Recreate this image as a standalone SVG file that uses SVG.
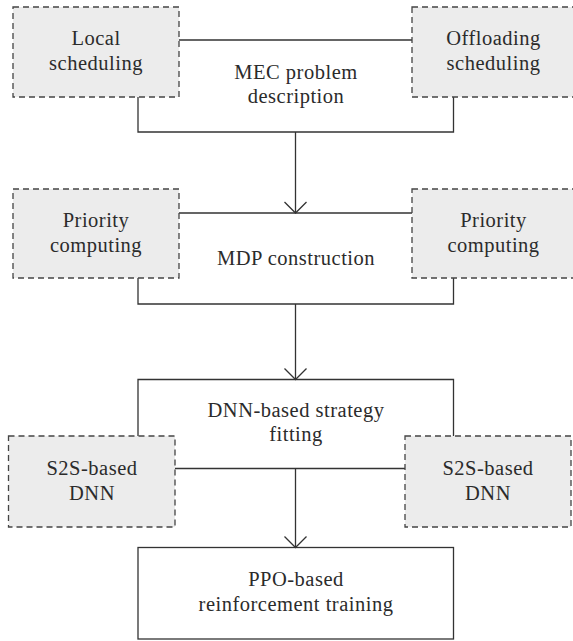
<svg xmlns="http://www.w3.org/2000/svg" width="573" height="641" viewBox="0 0 573 641">
  <style>
    .sub { fill: #ececec; stroke: #444; stroke-width: 1.3; stroke-dasharray: 6 4; }
    .frame { fill: none; stroke: #333; stroke-width: 1.3; }
    .box { fill: #fff; stroke: #333; stroke-width: 1.3; }
    .wire { fill: none; stroke: #333; stroke-width: 1.3; }
    .lbl { font-size: 20.5px; fill: #2b2b2b; text-anchor: middle; letter-spacing: 0.5px; }
  </style>
  <defs>
    <marker id="vee" markerUnits="userSpaceOnUse" markerWidth="24" markerHeight="24" refX="12" refY="12" orient="auto" viewBox="0 0 24 24">
      <path d="M1,1 L12,12 L1,23" fill="none" stroke="#333" stroke-width="1.3"/>
    </marker>
  </defs>
  <rect width="573" height="641" fill="#fff"/>

  <g font-family="'Liberation Serif', 'DejaVu Serif', serif">
  <!-- stage 1: MEC problem description -->
  <g id="mec-problem">
    <path class="frame" d="M179,40 H412 M138,97 V132 H453.5 V97"/>
    <text class="lbl" x="296" y="79">MEC problem</text>
    <text class="lbl" x="296" y="102.5">description</text>
  </g>
  <g id="local-scheduling">
    <rect class="sub" x="13" y="7" width="166" height="90"/>
    <text class="lbl" x="96" y="45">Local</text>
    <text class="lbl" x="96" y="70">scheduling</text>
  </g>
  <g id="offloading-scheduling">
    <rect class="sub" x="412" y="7" width="163" height="90"/>
    <text class="lbl" x="493.5" y="45">Offloading</text>
    <text class="lbl" x="493.5" y="70">scheduling</text>
  </g>

  <!-- stage 2: MDP construction -->
  <g id="mdp-construction">
    <path class="frame" d="M179,213 H412 M138,278 V304 H453.5 V278"/>
    <text class="lbl" x="296" y="265">MDP construction</text>
  </g>
  <g id="priority-left">
    <rect class="sub" x="13" y="189" width="166" height="89"/>
    <text class="lbl" x="96" y="227">Priority</text>
    <text class="lbl" x="96" y="252">computing</text>
  </g>
  <g id="priority-right">
    <rect class="sub" x="412" y="189" width="163" height="89"/>
    <text class="lbl" x="493.5" y="227">Priority</text>
    <text class="lbl" x="493.5" y="252">computing</text>
  </g>

  <!-- stage 3: DNN-based strategy fitting -->
  <g id="dnn-fitting">
    <path class="frame" d="M138,436 V379.5 H453.5 V436 M175,468.5 H405"/>
    <text class="lbl" x="296" y="417">DNN-based strategy</text>
    <text class="lbl" x="296" y="441">fitting</text>
  </g>
  <g id="s2s-left">
    <rect class="sub" x="8.5" y="436" width="166.5" height="91"/>
    <text class="lbl" x="92" y="475">S2S-based</text>
    <text class="lbl" x="92" y="500">DNN</text>
  </g>
  <g id="s2s-right">
    <rect class="sub" x="405" y="436" width="166" height="91"/>
    <text class="lbl" x="488" y="475">S2S-based</text>
    <text class="lbl" x="488" y="500">DNN</text>
  </g>

  <!-- stage 4: PPO training -->
  <g id="ppo-training">
    <rect class="box" x="138" y="547.5" width="315.5" height="91.5"/>
    <text class="lbl" x="296" y="586">PPO-based</text>
    <text class="lbl" x="296" y="610.5">reinforcement training</text>
  </g>
  </g>

  <!-- flow between stages -->
  <g id="connectors">
    <path class="wire" d="M295.5,132 V213" marker-end="url(#vee)"/>
    <path class="wire" d="M295.5,304 V379.5" marker-end="url(#vee)"/>
    <path class="wire" d="M295.5,468.5 V547.5" marker-end="url(#vee)"/>
  </g>
</svg>
